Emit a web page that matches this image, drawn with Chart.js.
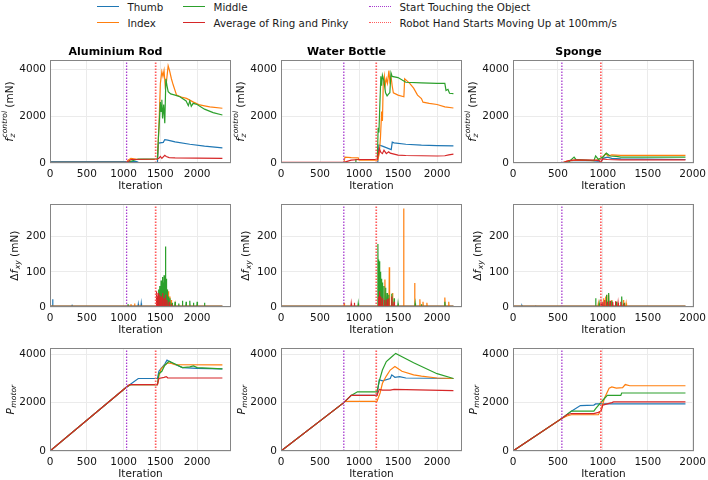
<!DOCTYPE html>
<html><head><meta charset="utf-8">
<script src="https://cdn.jsdelivr.net/npm/chart.js@4.4.1/dist/chart.umd.min.js"></script>
<style>
html,body{margin:0;padding:0;background:#fff;}
#wrap{position:relative;width:708px;height:480px;overflow:hidden;font-family:'DejaVu Sans',sans-serif;background:#fff;}
canvas{position:absolute;}
.lg{position:absolute;font-size:10.3px;line-height:12px;color:#1a1a1a;white-space:nowrap;}
.sw{position:absolute;width:22px;height:0;}
</style></head><body><div id="wrap"></div>
<script>
// ---------- data ----------
const objects = ['Aluminium Rod', 'Water Bottle', 'Sponge'];
const fingers = ['Thumb', 'Index', 'Middle', 'Average of Ring and Pinky'];
const markerNames = ['Start Touching the Object', 'Robot Hand Starts Moving Up at 100mm/s'];
const touchStart = [1041, 805, 544];
const moveUpStart = [1436, 1221, 978];
const lastIteration = [2343, 2210, 1920];
const xLimits = [2460, 2320, 2015];
const xTickLabels = [0, 500, 1000, 1500, 2000];
const fzTickLabels = [0, 2000, 4000];
const dfTickLabels = [0, 100, 200];
const pTickLabels = [0, 2000, 4000];
const yLimits = [4400, 292, 4250];
const dfBaseline = 2;

// f_z^control (mN)
const fzAluThumb = [[0,60],[1180,60],[1210,10],[1460,10],[1475,850],[1540,880],[1560,1000],[1600,980],[1700,900],[1900,800],[2100,720],[2343,650]];
const fzAluIndex = [[0,30],[1040,30],[1060,120],[1100,200],[1200,150],[1460,160],[1480,1500],[1500,3400],[1520,3900],[1535,3700],[1550,3950],[1566,3260],[1580,3400],[1606,4150],[1625,3950],[1650,3600],[1675,3330],[1720,2900],[1800,2800],[1855,2760],[1950,2600],[2036,2480],[2100,2440],[2172,2400],[2343,2340]];
const fzAluMiddle = [[0,20],[1040,20],[1200,170],[1460,170],[1475,1200],[1490,2000],[1500,2600],[1510,2200],[1520,2700],[1530,1900],[1545,2500],[1560,1700],[1575,3600],[1590,3300],[1606,3050],[1640,2950],[1700,2900],[1765,2830],[1850,2650],[1880,2450],[1900,2650],[1920,2420],[1946,2550],[2000,2500],[2100,2300],[2217,2150],[2343,2050]];
const fzAluAvg = [[0,20],[1040,20],[1100,150],[1460,170],[1480,200],[1500,280],[1520,200],[1560,330],[1580,280],[1620,230],[1700,220],[2000,210],[2343,200]];

const fzBotThumb = [[0,20],[805,20],[1240,20],[1255,770],[1300,720],[1413,570],[1426,890],[1450,860],[1600,800],[1800,760],[2000,740],[2210,730]];
const fzBotIndex = [[0,20],[805,20],[820,250],[900,230],[990,220],[1000,120],[1240,120],[1260,400],[1275,1100],[1290,2200],[1300,1800],[1310,3300],[1325,3700],[1335,3300],[1350,3600],[1365,3400],[1383,3950],[1395,3500],[1410,3700],[1425,3300],[1440,3000],[1500,2900],[1575,2830],[1585,3600],[1650,3400],[1700,3200],[1750,2900],[1800,2750],[1820,2600],[1900,2550],[2000,2500],[2100,2400],[2210,2350]];
const fzBotMiddle = [[0,10],[950,10],[960,150],[1235,150],[1245,1500],[1255,1300],[1265,2300],[1280,3700],[1290,3300],[1300,3750],[1320,3500],[1340,3000],[1360,2870],[1380,2950],[1395,3000],[1410,3850],[1425,3700],[1500,3650],[1600,3450],[1800,3420],[2000,3400],[2100,3400],[2115,3100],[2140,3150],[2160,2980],[2210,2960]];
const fzBotAvg = [[0,30],[805,30],[900,120],[1000,150],[1235,150],[1260,610],[1280,450],[1300,400],[1320,550],[1350,400],[1380,480],[1400,420],[1450,380],[1500,340],[1600,320],[1800,310],[2000,300],[2100,310],[2150,350],[2210,380]];

const fzSpgThumb = [[0,10],[550,10],[650,30],[900,40],[980,60],[1000,200],[1050,250],[1100,200],[1200,180],[1920,150]];
const fzSpgIndex = [[0,10],[550,10],[600,80],[700,120],[900,100],[950,150],[1000,250],[1030,400],[1060,300],[1100,350],[1200,330],[1920,330]];
const fzSpgMiddle = [[0,10],[550,10],[620,50],[680,250],[700,150],[900,100],[920,300],[950,150],[1000,250],[1040,420],[1080,300],[1150,280],[1200,250],[1920,250]];
const fzSpgAvg = [[0,10],[550,10],[620,100],[700,130],[900,120],[960,100],[980,40],[1000,180],[1050,150],[1200,130],[1920,130]];

// Delta f_xy (mN) spikes: [iteration, height]
const dfAluThumb = [[36,22],[300,4],[700,3],[1200,8],[1240,10],[1480,20],[1520,25],[1560,30],[1600,15]];
const dfAluIndex = [[1100,8],[1150,10],[1480,30],[1520,40],[1560,35],[1590,50],[1610,45],[1630,30],[1650,20],[1700,8]];
const dfAluMiddle = [[1060,8],[1460,30],[1475,50],[1490,60],[1500,40],[1510,75],[1520,55],[1530,85],[1540,70],[1550,90],[1560,60],[1570,172],[1580,80],[1595,50],[1610,30],[1630,25],[1660,12],[1700,15],[1750,10],[1800,18],[1850,15],[1900,18],[1950,12],[2000,15],[2100,12]];
const dfAluAvg = [[1445,45],[1455,30],[1470,40],[1490,35],[1510,30],[1530,40],[1550,25],[1570,35],[1590,20],[1620,15],[1650,8]];

const dfBotThumb = [[1250,30],[1300,20],[1420,15]];
const dfBotIndex = [[810,12],[1260,30],[1290,40],[1332,78],[1360,30],[1388,113],[1430,40],[1572,280],[1713,68],[1780,22],[1820,15],[1870,12],[2100,27],[2150,15]];
const dfBotMiddle = [[990,10],[1242,179],[1250,135],[1260,130],[1270,100],[1280,95],[1290,80],[1300,70],[1320,60],[1340,55],[1360,40],[1380,35],[1420,38],[1450,25],[1500,10],[1720,10],[1800,8],[2100,15]];
const dfBotAvg = [[900,10],[940,12],[1250,30],[1262,45],[1280,30],[1300,25],[1330,20],[1360,22],[1380,25],[1420,30],[1450,15]];

const dfSpgThumb = [[100,4],[250,4],[1000,10],[1050,15]];
const dfSpgIndex = [[950,10],[1010,25],[1030,30],[1060,35],[1100,20],[1150,15],[1230,20],[1260,10]];
const dfSpgMiddle = [[920,25],[960,10],[1040,35],[1065,40],[1100,18],[1150,15],[1210,30],[1240,12]];
const dfSpgAvg = [[980,12],[1000,15],[1020,20],[1050,15],[1080,18],[1110,14],[1140,16],[1170,12],[1200,15],[1230,10]];

// P_motor
const pAluThumb = [[0,0],[1041,2650],[1200,3000],[1460,3000],[1480,3300],[1520,3450],[1560,3600],[1590,3760],[1650,3650],[1800,3450],[2000,3420],[2343,3400]];
const pAluIndex = [[0,0],[1041,2650],[1100,2750],[1460,2750],[1480,3100],[1510,3400],[1560,3550],[1600,3650],[1650,3620],[1700,3570],[2343,3560]];
const pAluMiddle = [[0,0],[1041,2650],[1100,2750],[1460,2750],[1480,3200],[1520,3300],[1560,3550],[1620,3720],[1700,3600],[1800,3450],[1900,3480],[1950,3520],[2000,3450],[2343,3400]];
const pAluAvg = [[0,0],[1041,2650],[1080,2750],[1460,2750],[1480,3000],[1550,3050],[1580,3080],[1600,3030],[2343,3020]];

const pBotThumb = [[0,0],[805,2000],[900,2300],[1230,2300],[1260,2950],[1300,2900],[1400,3000],[1420,3150],[1460,3050],[1520,3080],[1600,3020],[2210,3000]];
const pBotIndex = [[0,0],[805,2000],[820,2050],[1230,2050],[1270,2400],[1300,2800],[1350,3100],[1400,3350],[1460,3500],[1550,3300],[1700,3150],[1800,3100],[2000,3020],[2210,3000]];
const pBotMiddle = [[0,0],[805,2000],[900,2300],[980,2450],[1230,2450],[1260,2900],[1300,3350],[1350,3700],[1420,3900],[1470,4040],[1700,3650],[2000,3200],[2210,3000]];
const pBotAvg = [[0,0],[805,2000],[900,2300],[1230,2300],[1260,2550],[1300,2520],[1400,2520],[1450,2550],[2210,2500]];

const pSpgThumb = [[0,0],[544,1350],[650,1650],[750,1880],[900,1900],[920,1950],[1920,1950]];
const pSpgIndex = [[0,0],[544,1350],[600,1450],[650,1500],[950,1500],[980,1700],[1020,2200],[1070,2600],[1100,2650],[1150,2600],[1220,2620],[1250,2750],[1300,2700],[1920,2700]];
const pSpgMiddle = [[0,0],[544,1350],[650,1650],[900,1650],[920,1750],[1000,2100],[1050,2300],[1200,2300],[1210,2400],[1920,2400]];
const pSpgAvg = [[0,0],[544,1350],[600,1500],[650,1550],[900,1550],[950,1600],[980,1650],[1000,1900],[1100,2000],[1120,2030],[1920,2030]];

// ---------- assembly ----------
const fingerColors = ['#1f77b4', '#ff7f0e', '#2ca02c', '#d62728'];
const markerColors = ['#a83ccf', '#ff5c5c'];
const FONT = "'DejaVu Sans', sans-serif";
const TXT = '#141414';

function spikeLine(spikes, xEnd) {
  const w = 4;
  const pts = [[0, dfBaseline]];
  spikes.slice().sort((a, b) => a[0] - b[0]).forEach(([x, h]) => {
    pts.push([x - w, dfBaseline], [x, h], [x + w, dfBaseline]);
  });
  pts.push([xEnd, dfBaseline]);
  return pts;
}

const grid = [
  [[fzAluThumb, fzAluIndex, fzAluMiddle, fzAluAvg], [fzBotThumb, fzBotIndex, fzBotMiddle, fzBotAvg], [fzSpgThumb, fzSpgIndex, fzSpgMiddle, fzSpgAvg]],
  [[dfAluThumb, dfAluIndex, dfAluMiddle, dfAluAvg].map(s => spikeLine(s, lastIteration[0])),
   [dfBotThumb, dfBotIndex, dfBotMiddle, dfBotAvg].map(s => spikeLine(s, lastIteration[1])),
   [dfSpgThumb, dfSpgIndex, dfSpgMiddle, dfSpgAvg].map(s => spikeLine(s, lastIteration[2]))],
  [[pAluThumb, pAluIndex, pAluMiddle, pAluAvg], [pBotThumb, pBotIndex, pBotMiddle, pBotAvg], [pSpgThumb, pSpgIndex, pSpgMiddle, pSpgAvg]]
];
const yTickSets = [fzTickLabels, dfTickLabels, pTickLabels];

// y-label definitions (math-style)
const yLabels = [
  [{t: 'f', it: true, sub: 'z', sup: 'control'}, {t: ' (mN)'}],
  [{t: 'Δ'}, {t: 'f', it: true, sub: 'xy'}, {t: ' (mN)'}],
  [{t: 'P', it: true, sub: 'motor'}]
];
const yLabelOffset = [40, 35, 39];

const colLeft = [50, 281, 513];
const rowTop = [60, 204, 348];
const PW = 181, PH = 103, YW = 50, XH = 32, RP = 22;

const wrap = document.getElementById('wrap');

const framePlugin = {
  id: 'frame',
  afterDraw(chart) {
    const a = chart.chartArea, ctx = chart.ctx;
    ctx.save();
    ctx.strokeStyle = '#858585';
    ctx.lineWidth = 1;
    ctx.strokeRect(Math.round(a.left) + 0.5, Math.round(a.top) + 0.5, Math.round(a.right - a.left) - 1, Math.round(a.bottom - a.top) - 1);
    ctx.restore();
  }
};

function makeYLabelPlugin(r) {
  return {
    id: 'ylab',
    afterDraw(chart) {
      const ctx = chart.ctx, a = chart.chartArea;
      const big = 10.5, small = 7.6;
      const segs = yLabels[r];
      const fBig = it => (it ? 'italic ' : '') + big + 'px ' + FONT;
      const fSmall = 'italic ' + small + 'px ' + FONT;
      ctx.save();
      let total = 0;
      const widths = segs.map(s => {
        ctx.font = fBig(s.it);
        let w = ctx.measureText(s.t).width;
        ctx.font = fSmall;
        let ws = 0;
        if (s.sub) ws = Math.max(ws, ctx.measureText(s.sub).width);
        if (s.sup) ws = Math.max(ws, ctx.measureText(s.sup).width);
        if (ws) ws += 0.5;
        total += w + ws;
        return [w, ws];
      });
      ctx.translate(a.left - yLabelOffset[r], (a.top + a.bottom) / 2);
      ctx.rotate(-Math.PI / 2);
      ctx.fillStyle = TXT;
      ctx.textBaseline = 'middle';
      ctx.textAlign = 'left';
      let x = -total / 2;
      segs.forEach((s, i) => {
        ctx.font = fBig(s.it);
        ctx.fillText(s.t, x, 0);
        x += widths[i][0];
        ctx.font = fSmall;
        if (s.sub) ctx.fillText(s.sub, x + 0.5, 3);
        if (s.sup) ctx.fillText(s.sup, x + 0.5, -4.5);
        x += widths[i][1];
      });
      ctx.restore();
    }
  };
}

function toXY(pts) { return pts.map(([x, y]) => ({x, y})); }

for (let r = 0; r < 3; r++) {
  for (let c = 0; c < 3; c++) {
    const topPad = r === 0 ? 25 : 10;
    const W = YW + PW + RP, H = topPad + PH + XH;
    const cv = document.createElement('canvas');
    cv.width = W; cv.height = H;
    cv.style.left = (colLeft[c] - YW) + 'px';
    cv.style.top = (rowTop[r] - topPad) + 'px';
    cv.style.width = W + 'px'; cv.style.height = H + 'px';
    wrap.appendChild(cv);

    const datasets = grid[r][c].map((pts, i) => ({
      label: fingers[i], data: toXY(pts), borderColor: fingerColors[i],
      borderWidth: 1.2, pointRadius: 0, tension: 0, fill: false, order: 4 - i
    }));
    [touchStart[c], moveUpStart[c]].forEach((xv, k) => {
      datasets.push({
        label: markerNames[k], data: [{x: xv, y: 0}, {x: xv, y: yLimits[r]}],
        borderColor: markerColors[k], borderWidth: k === 0 ? 1.3 : 1.7, borderDash: [1.5, 1.5],
        pointRadius: 0, fill: false, order: 0
      });
    });

    const tickFont = {family: FONT, size: 10.5};
    new Chart(cv, {
      type: 'line',
      data: {datasets},
      options: {
        responsive: false, animation: false, devicePixelRatio: 1,
        layout: {padding: {left: 0, right: RP, top: r === 0 ? 0 : topPad, bottom: 0}},
        plugins: {
          legend: {display: false}, tooltip: {enabled: false},
          title: {display: r === 0, text: objects[c], color: '#000',
                  font: {family: FONT, size: 11, weight: 'bold'}, padding: {top: 10.4, bottom: 1.4}}
        },
        scales: {
          x: {
            type: 'linear', min: 0, max: xLimits[c],
            afterFit: s => { s.height = XH; },
            afterBuildTicks: s => { s.ticks = xTickLabels.map(v => ({value: v})); },
            grid: {color: '#ebebeb', drawTicks: false, lineWidth: 1},
            border: {display: false},
            ticks: {padding: 5, font: tickFont, color: TXT, maxRotation: 0, autoSkip: false, callback: v => String(v)},
            title: {display: true, text: 'Iteration', font: tickFont, color: TXT, padding: {top: 0, bottom: 2}}
          },
          y: {
            type: 'linear', min: 0, max: yLimits[r],
            afterFit: s => { s.width = YW; },
            afterBuildTicks: s => { s.ticks = yTickSets[r].map(v => ({value: v})); },
            grid: {color: '#ebebeb', drawTicks: false, lineWidth: 1},
            border: {display: false},
            ticks: {padding: 4, font: tickFont, color: TXT, autoSkip: false, callback: v => String(v)}
          }
        }
      },
      plugins: [framePlugin, makeYLabelPlugin(r)]
    });
  }
}

// ---------- legend ----------
const legendItems = [
  {name: fingers[0], color: fingerColors[0], dash: false, x: 97, row: 0},
  {name: fingers[1], color: fingerColors[1], dash: false, x: 97, row: 1},
  {name: fingers[2], color: fingerColors[2], dash: false, x: 183, row: 0},
  {name: fingers[3], color: fingerColors[3], dash: false, x: 183, row: 1},
  {name: markerNames[0], color: markerColors[0], dash: true, x: 369, row: 0},
  {name: markerNames[1], color: markerColors[1], dash: true, x: 369, row: 1}
];
const rowCenters = [7, 22.5];
legendItems.forEach(it => {
  const sw = document.createElement('div');
  sw.className = 'sw';
  sw.style.left = it.x + 'px';
  sw.style.top = (rowCenters[it.row] - 0.75) + 'px';
  sw.style.borderTop = '1.5px ' + (it.dash ? 'dotted ' : 'solid ') + it.color;
  wrap.appendChild(sw);
  const tx = document.createElement('div');
  tx.className = 'lg';
  tx.textContent = it.name;
  tx.style.left = (it.x + 30.5) + 'px';
  tx.style.top = (rowCenters[it.row] - 6) + 'px';
  wrap.appendChild(tx);
});
</script>
</body></html>
